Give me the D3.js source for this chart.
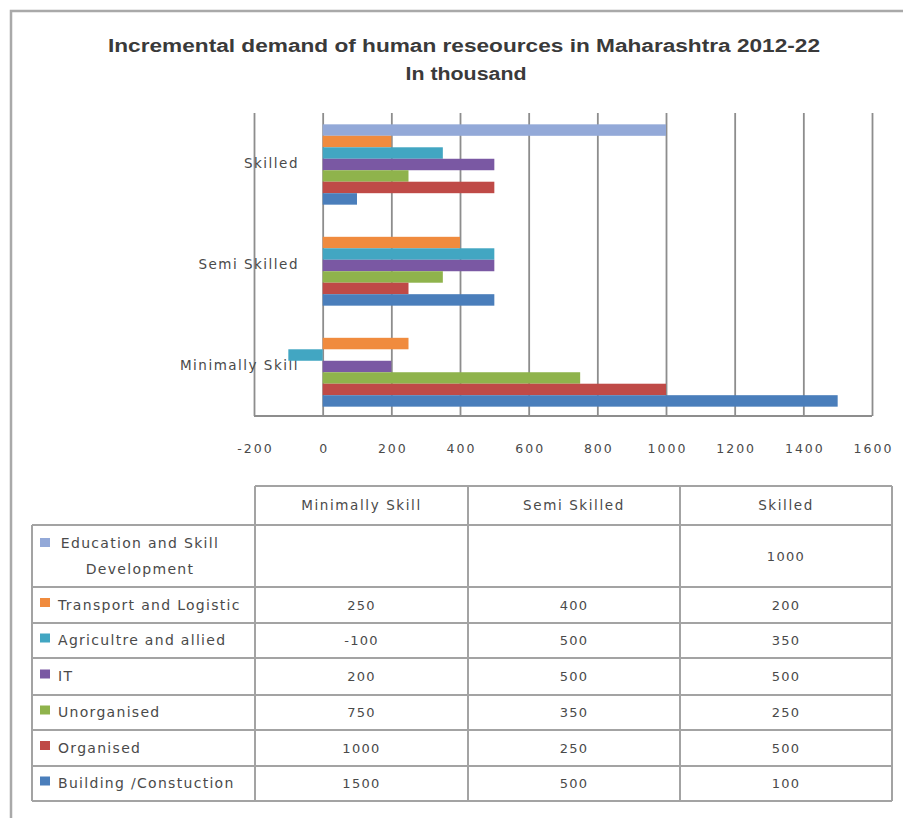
<!DOCTYPE html>
<html>
<head>
<meta charset="utf-8">
<script src="https://cdn.jsdelivr.net/npm/d3@7"></script>
<style>
  html, body { margin: 0; padding: 0; background: #fff; }
  svg { display: block; }
</style>
</head>
<body>
<div id="chart"></div>
<script>
// ---------- DATA ----------
const categories = ["Minimally Skill", "Semi Skilled", "Skilled"];
const seriesNames = [
  "Education and Skill Development",
  "Transport and Logistic",
  "Agricultre and allied",
  "IT",
  "Unorganised",
  "Organised",
  "Building /Constuction"
];
const educationValues    = [null, null, 1000];
const transportValues    = [250, 400, 200];
const agricultureValues  = [-100, 500, 350];
const itValues           = [200, 500, 500];
const unorganisedValues  = [750, 350, 250];
const organisedValues    = [1000, 250, 500];
const buildingValues     = [1500, 500, 100];
const seriesColors = ["#93a9d8", "#f08b3e", "#42a6c2", "#7a58a3", "#8fb34c", "#bf4a47", "#4a7ebb"];
const xTickValues = [-200, 0, 200, 400, 600, 800, 1000, 1200, 1400, 1600];
const titleLine1 = "Incremental demand of human reseources in Maharashtra 2012-22";
const titleLine2 = "In thousand";

const seriesValues = [educationValues, transportValues, agricultureValues, itValues,
                      unorganisedValues, organisedValues, buildingValues];
const series = seriesNames.map((name, i) => ({ name, values: seriesValues[i], color: seriesColors[i] }));

// ---------- LAYOUT ----------
const W = 903, H = 818;
const plot = { left: 254, right: 872, top: 113, bottom: 416 };
const gridColor = "#8d8d8d";
const textColor = "#4a4a4a";
const font = "'DejaVu Sans', sans-serif";

const svg = d3.select("#chart").append("svg").attr("width", W).attr("height", H);
svg.append("rect").attr("width", W).attr("height", H).attr("fill", "#fff");

// outer frame (right/bottom sides cut off)
svg.append("path").attr("d", `M11,${H + 5} L11,11 L${W + 5},11`)
  .attr("fill", "none").attr("stroke", "#a9a9a9").attr("stroke-width", 2.5);

// title
svg.append("text").attr("x", 464).attr("y", 52).attr("text-anchor", "middle")
  .attr("font-family", "'Liberation Sans', Arial, sans-serif").attr("font-weight", "bold")
  .attr("font-size", 18).attr("fill", "#3a3a3a")
  .attr("textLength", 712).attr("lengthAdjust", "spacingAndGlyphs")
  .text(titleLine1);
svg.append("text").attr("x", 466).attr("y", 80).attr("text-anchor", "middle")
  .attr("font-family", "'Liberation Sans', Arial, sans-serif").attr("font-weight", "bold")
  .attr("font-size", 18).attr("fill", "#3a3a3a")
  .attr("textLength", 121).attr("lengthAdjust", "spacingAndGlyphs")
  .text(titleLine2);

// scales
const x = d3.scaleLinear().domain([-200, 1600]).range([plot.left, plot.right]);
const y = d3.scaleBand().domain(categories.slice().reverse()).range([plot.top, plot.bottom]).padding(0);
const ySub = d3.scaleBand().domain(seriesNames).range([0, y.bandwidth()]).paddingOuter(0.9).paddingInner(0);

// gridlines + x axis
const xAxis = d3.axisBottom(x).tickValues(xTickValues).tickSize(-(plot.bottom - plot.top)).tickPadding(28)
  .tickFormat(d3.format("d"));
const gx = svg.append("g").attr("transform", `translate(0,${plot.bottom})`).call(xAxis);
gx.select(".domain").remove();
gx.selectAll(".tick line").attr("stroke", gridColor).attr("stroke-width", 1.8);
gx.selectAll(".tick text").attr("font-family", font).attr("font-size", 12.5)
  .attr("letter-spacing", 2).attr("fill", textColor).attr("dx", 1);
gx.selectAll(".tick text").text(d => d < 0 ? "-" + Math.abs(d) : d);

// bottom axis line
svg.append("line").attr("x1", plot.left).attr("x2", plot.right).attr("y1", plot.bottom).attr("y2", plot.bottom)
  .attr("stroke", gridColor).attr("stroke-width", 1.8);

// category labels (drawn beneath the bars)
const yAxis = d3.axisLeft(y).tickSize(0).tickPadding(0);
const gy = svg.append("g").attr("transform", `translate(${plot.left + 45},0)`).call(yAxis);
gy.select(".domain").remove();
gy.selectAll(".tick text").attr("font-family", font).attr("font-size", 13.5)
  .attr("letter-spacing", 1.5).attr("fill", textColor).attr("dy", "0.32em");

// bars
const barGroups = svg.append("g").selectAll("g").data(series).join("g").attr("fill", d => d.color);
barGroups.selectAll("rect")
  .data(s => categories.map((c, i) => ({ cat: c, v: s.values[i], name: s.name })).filter(d => d.v !== null))
  .join("rect")
  .attr("x", d => x(Math.min(0, d.v)))
  .attr("width", d => Math.abs(x(d.v) - x(0)))
  .attr("y", d => y(d.cat) + ySub(d.name) + 1)
  .attr("height", ySub.bandwidth());

// ---------- DATA TABLE ----------
const colEdges = [32, 255, 468, 680, 892];
const rowHeights = [39, 62, 36, 35, 37, 35, 36, 35];
const rowEdges = [486];
rowHeights.forEach(h => rowEdges.push(rowEdges[rowEdges.length - 1] + h));
const tableColor = "#a3a3a3";
const tbl = svg.append("g");

rowEdges.forEach((yy, i) => {
  tbl.append("line").attr("x1", i === 0 ? colEdges[1] : colEdges[0]).attr("x2", colEdges[4])
    .attr("y1", yy).attr("y2", yy).attr("stroke", tableColor).attr("stroke-width", 2);
});
colEdges.forEach((xx, i) => {
  tbl.append("line").attr("x1", xx).attr("x2", xx)
    .attr("y1", i === 0 ? rowEdges[1] : rowEdges[0]).attr("y2", rowEdges[rowEdges.length - 1])
    .attr("stroke", tableColor).attr("stroke-width", 2);
});

const cellFont = 14;
const cellSpacing = 1.3;
// header
categories.forEach((c, i) => {
  tbl.append("text").attr("x", (colEdges[i + 1] + colEdges[i + 2]) / 2).attr("y", (rowEdges[0] + rowEdges[1]) / 2)
    .attr("dy", "0.35em").attr("text-anchor", "middle")
    .attr("font-family", font).attr("font-size", 13.5).attr("letter-spacing", 1.6).attr("fill", textColor).text(c);
});

// rows
series.forEach((s, r) => {
  const y0 = rowEdges[r + 1], y1 = rowEdges[r + 2], cy = (y0 + y1) / 2;
  if (s.name === "Education and Skill Development") {
    tbl.append("rect").attr("x", 40).attr("y", 538).attr("width", 10).attr("height", 9).attr("fill", s.color);
    const t = tbl.append("text").attr("text-anchor", "middle").attr("font-family", font)
      .attr("font-size", cellFont).attr("letter-spacing", cellSpacing).attr("fill", textColor);
    t.append("tspan").attr("x", 140).attr("y", cy - 13).attr("dy", "0.35em").text("Education and Skill");
    t.append("tspan").attr("x", 140).attr("y", cy + 13).attr("dy", "0.35em").text("Development");
  } else {
    tbl.append("rect").attr("x", 40).attr("y", cy - 7).attr("width", 10).attr("height", 9).attr("fill", s.color);
    tbl.append("text").attr("x", 58).attr("y", cy).attr("dy", "0.35em")
      .attr("font-family", font).attr("font-size", cellFont).attr("letter-spacing", cellSpacing)
      .attr("fill", textColor).text(s.name);
  }
  s.values.forEach((v, c) => {
    if (v === null) return;
    tbl.append("text").attr("x", (colEdges[c + 1] + colEdges[c + 2]) / 2).attr("y", cy)
      .attr("dy", "0.35em").attr("text-anchor", "middle")
      .attr("font-family", font).attr("font-size", 13).attr("letter-spacing", 1.3)
      .attr("fill", textColor).text(v);
  });
});
</script>
</body>
</html>
